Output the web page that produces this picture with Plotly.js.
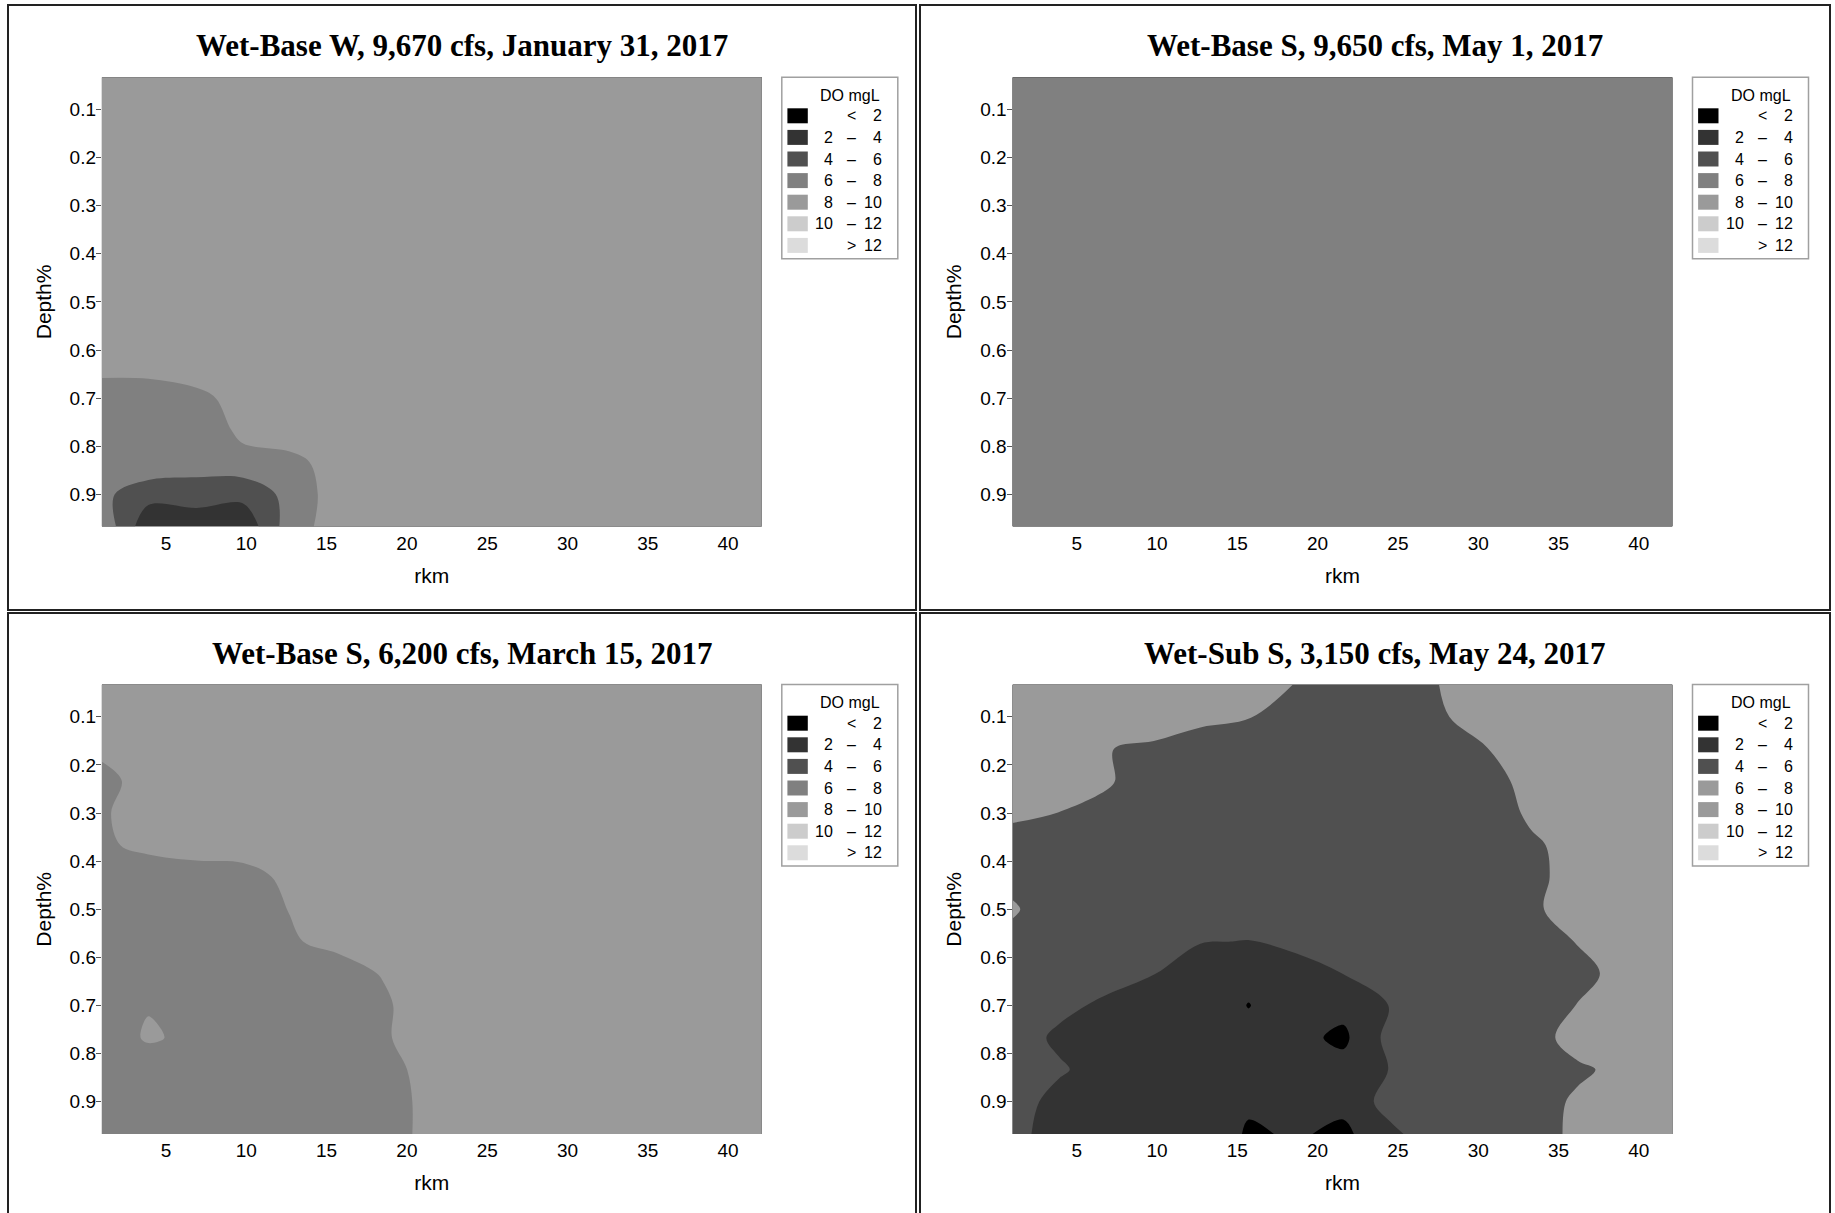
<!DOCTYPE html>
<html>
<head>
<meta charset="utf-8">
<script src="https://cdn.plot.ly/plotly-3.0.1.min.js"></script>
<style>
html,body{margin:0;padding:0;background:#fff;}
#chart{width:1835px;height:1213px;}
</style>
</head>
<body>
<div id="chart"></div>
<script>
// ---------------- data ----------------
const RKM = [1.0, 3.9, 6.9, 9.8, 12.7, 15.7, 18.6, 21.6, 24.5, 27.4, 30.4, 33.3, 36.2, 39.2, 42.1];
const DEPTH = [0.033, 0.1, 0.167, 0.233, 0.3, 0.367, 0.433, 0.5, 0.567, 0.633, 0.7, 0.767, 0.833, 0.9, 0.967];

const TITLES = [
  'Wet-Base W, 9,670 cfs, January 31, 2017',
  'Wet-Base S, 9,650 cfs, May 1, 2017',
  'Wet-Base S, 6,200 cfs, March 15, 2017',
  'Wet-Sub S, 3,150 cfs, May 24, 2017'
];

// DO (mg/L) by depth row (top to bottom) and rkm column
const DO_JAN31 = [
  [9.1, 9.2, 9.2, 9.3, 9.3, 9.3, 9.4, 9.4, 9.4, 9.4, 9.5, 9.5, 9.5, 9.5, 9.5],
  [9.1, 9.1, 9.2, 9.2, 9.3, 9.3, 9.3, 9.4, 9.4, 9.4, 9.4, 9.5, 9.5, 9.5, 9.5],
  [9.0, 9.1, 9.1, 9.2, 9.2, 9.3, 9.3, 9.3, 9.4, 9.4, 9.4, 9.4, 9.5, 9.5, 9.5],
  [9.0, 9.0, 9.1, 9.2, 9.2, 9.2, 9.3, 9.3, 9.3, 9.4, 9.4, 9.4, 9.4, 9.5, 9.5],
  [8.9, 9.0, 9.1, 9.1, 9.2, 9.2, 9.2, 9.3, 9.3, 9.3, 9.4, 9.4, 9.4, 9.4, 9.5],
  [8.9, 8.9, 9.0, 9.1, 9.1, 9.2, 9.2, 9.2, 9.3, 9.3, 9.3, 9.4, 9.4, 9.4, 9.4],
  [8.8, 8.9, 9.0, 9.0, 9.1, 9.1, 9.2, 9.2, 9.2, 9.3, 9.3, 9.3, 9.4, 9.4, 9.4],
  [8.7, 8.8, 9.0, 9.0, 9.1, 9.1, 9.1, 9.2, 9.2, 9.2, 9.3, 9.3, 9.3, 9.4, 9.4],
  [8.6, 8.7, 9.1, 9.0, 9.0, 9.1, 9.1, 9.1, 9.2, 9.2, 9.2, 9.3, 9.3, 9.3, 9.4],
  [8.3, 8.4, 9.5, 9.1, 9.0, 9.0, 9.1, 9.1, 9.1, 9.2, 9.2, 9.2, 9.3, 9.3, 9.3],
  [7.5, 7.4, 7.3, 9.0, 9.2, 9.0, 9.0, 9.1, 9.1, 9.1, 9.2, 9.2, 9.2, 9.3, 9.3],
  [7.3, 7.5, 6.5, 8.5, 9.4, 9.1, 9.0, 9.0, 9.1, 9.1, 9.1, 9.2, 9.2, 9.2, 9.3],
  [7.0, 7.6, 6.8, 7.3, 7.3, 9.0, 9.0, 9.0, 9.0, 9.1, 9.1, 9.1, 9.2, 9.2, 9.2],
  [6.5, 4.7, 5.1, 4.6, 6.6, 9.0, 9.0, 9.0, 9.0, 9.0, 9.1, 9.1, 9.1, 9.2, 9.2],
  [7.5, 2.6, 2.5, 2.5, 7.0, 9.0, 9.0, 9.0, 9.0, 9.0, 9.0, 9.1, 9.1, 9.1, 9.2]
];

const DO_MAY1 = [
  [7.2, 7.2, 7.3, 7.3, 7.3, 7.4, 7.4, 7.4, 7.4, 7.5, 7.5, 7.5, 7.5, 7.5, 7.6],
  [7.2, 7.2, 7.2, 7.3, 7.3, 7.3, 7.4, 7.4, 7.4, 7.4, 7.5, 7.5, 7.5, 7.5, 7.5],
  [7.1, 7.2, 7.2, 7.2, 7.3, 7.3, 7.3, 7.4, 7.4, 7.4, 7.4, 7.5, 7.5, 7.5, 7.5],
  [7.1, 7.1, 7.2, 7.2, 7.2, 7.3, 7.3, 7.3, 7.4, 7.4, 7.4, 7.4, 7.5, 7.5, 7.5],
  [7.1, 7.1, 7.1, 7.2, 7.2, 7.2, 7.3, 7.3, 7.3, 7.4, 7.4, 7.4, 7.4, 7.5, 7.5],
  [7.0, 7.1, 7.1, 7.1, 7.2, 7.2, 7.2, 7.3, 7.3, 7.3, 7.4, 7.4, 7.4, 7.4, 7.5],
  [7.0, 7.0, 7.1, 7.1, 7.1, 7.2, 7.2, 7.2, 7.3, 7.3, 7.3, 7.4, 7.4, 7.4, 7.4],
  [7.0, 7.0, 7.0, 7.1, 7.1, 7.1, 7.2, 7.2, 7.2, 7.3, 7.3, 7.3, 7.4, 7.4, 7.4],
  [6.9, 7.0, 7.0, 7.0, 7.1, 7.1, 7.1, 7.2, 7.2, 7.2, 7.3, 7.3, 7.3, 7.3, 7.4],
  [6.9, 6.9, 7.0, 7.0, 7.0, 7.1, 7.1, 7.1, 7.2, 7.2, 7.2, 7.3, 7.3, 7.3, 7.3],
  [6.9, 6.9, 6.9, 7.0, 7.0, 7.0, 7.1, 7.1, 7.1, 7.2, 7.2, 7.2, 7.2, 7.3, 7.3],
  [6.8, 6.9, 6.9, 6.9, 7.0, 7.0, 7.0, 7.1, 7.1, 7.1, 7.2, 7.2, 7.2, 7.2, 7.3],
  [6.8, 6.8, 6.9, 6.9, 6.9, 7.0, 7.0, 7.0, 7.1, 7.1, 7.1, 7.1, 7.2, 7.2, 7.2],
  [6.8, 6.8, 6.8, 6.9, 6.9, 6.9, 7.0, 7.0, 7.0, 7.1, 7.1, 7.1, 7.1, 7.2, 7.2],
  [6.7, 6.8, 6.8, 6.8, 6.9, 6.9, 6.9, 7.0, 7.0, 7.0, 7.1, 7.1, 7.1, 7.1, 7.2]
];

const DO_MAR15 = [
  [9.0, 9.1, 9.2, 9.2, 9.3, 9.3, 9.3, 9.4, 9.4, 9.4, 9.5, 9.5, 9.5, 9.5, 9.5],
  [8.8, 9.0, 9.1, 9.2, 9.2, 9.3, 9.3, 9.3, 9.4, 9.4, 9.4, 9.5, 9.5, 9.5, 9.5],
  [8.2, 8.9, 9.0, 9.1, 9.2, 9.2, 9.3, 9.3, 9.3, 9.4, 9.4, 9.4, 9.5, 9.5, 9.5],
  [7.7, 8.4, 8.9, 9.0, 9.1, 9.2, 9.2, 9.3, 9.3, 9.3, 9.4, 9.4, 9.4, 9.5, 9.5],
  [7.8, 8.8, 8.8, 9.0, 9.1, 9.1, 9.2, 9.2, 9.3, 9.3, 9.3, 9.4, 9.4, 9.4, 9.5],
  [7.8, 8.3, 8.6, 8.8, 9.0, 9.1, 9.1, 9.2, 9.2, 9.3, 9.3, 9.3, 9.4, 9.4, 9.4],
  [7.6, 7.25, 7.35, 7.36, 8.4, 9.0, 9.1, 9.1, 9.2, 9.2, 9.3, 9.3, 9.3, 9.4, 9.4],
  [7.5, 7.3, 7.2, 7.2, 8.05, 9.0, 9.1, 9.1, 9.1, 9.2, 9.2, 9.3, 9.3, 9.3, 9.4],
  [7.4, 7.4, 7.1, 7.0, 7.77, 8.6, 9.0, 9.1, 9.1, 9.2, 9.2, 9.2, 9.3, 9.3, 9.3],
  [7.3, 7.5, 7.0, 6.9, 7.1, 7.0, 8.2, 9.2, 9.1, 9.1, 9.2, 9.2, 9.2, 9.3, 9.3],
  [7.2, 7.9, 7.2, 6.8, 7.0, 7.3, 7.6, 9.8, 9.2, 9.1, 9.1, 9.2, 9.2, 9.2, 9.3],
  [7.0, 8.2, 7.6, 6.9, 7.0, 7.2, 7.7, 9.6, 9.2, 9.1, 9.1, 9.1, 9.2, 9.2, 9.2],
  [7.1, 7.0, 7.2, 7.0, 6.9, 7.1, 7.2, 8.9, 9.1, 9.1, 9.1, 9.1, 9.1, 9.2, 9.2],
  [7.2, 7.2, 7.1, 7.0, 6.8, 7.0, 6.9, 8.8, 9.0, 9.0, 9.1, 9.1, 9.1, 9.1, 9.2],
  [7.3, 7.3, 7.0, 7.0, 6.8, 7.0, 6.9, 8.8, 9.0, 9.0, 9.0, 9.1, 9.1, 9.1, 9.1]
];

const DO_MAY24 = [
  [7.2, 7.0, 6.9, 6.9, 6.8, 6.6, 5.97, 5.6, 5.7, 5.95, 6.9, 7.2, 7.3, 7.4, 7.5],
  [7.1, 6.9, 6.7, 6.9, 6.49, 6.07, 5.4, 5.2, 5.3, 5.6, 7.1, 7.3, 7.4, 7.5, 7.5],
  [7.0, 6.8, 6.05, 5.7, 5.0, 4.9, 4.8, 4.8, 4.9, 5.2, 5.88, 7.0, 7.3, 7.4, 7.5],
  [6.9, 6.5, 6.3, 4.5, 4.6, 4.5, 4.6, 4.7, 4.8, 5.0, 5.4, 6.49, 7.0, 7.3, 7.4],
  [6.4, 5.98, 5.2, 4.7, 4.6, 4.5, 4.5, 4.6, 4.7, 4.9, 5.3, 6.2, 6.8, 7.2, 7.3],
  [5.1, 5.2, 4.9, 4.8, 4.7, 4.6, 4.6, 4.6, 4.7, 4.9, 5.3, 5.82, 6.4, 7.0, 7.2],
  [5.5, 5.0, 4.8, 4.7, 4.6, 4.5, 4.5, 4.5, 4.6, 4.8, 5.1, 5.5, 6.76, 7.1, 7.3],
  [6.2, 5.0, 4.7, 4.6, 4.5, 4.6, 4.6, 4.5, 4.6, 4.7, 5.0, 5.5, 7.31, 7.2, 7.3],
  [5.5, 5.0, 4.8, 4.8, 4.1, 3.95, 4.9, 4.6, 4.6, 4.7, 4.9, 5.15, 6.1, 7.0, 7.2],
  [5.3, 4.9, 4.6, 4.05, 2.6, 2.5, 2.41, 4.05, 4.5, 4.7, 4.9, 5.0, 5.15, 7.0, 7.2],
  [5.0, 4.4, 3.69, 3.3, 3.0, 1.95, 2.9, 2.6, 4.05, 4.6, 4.9, 5.2, 6.06, 7.0, 7.2],
  [4.8, 3.7, 3.2, 3.0, 2.9, 2.5, 2.57, 1.6, 4.6, 4.9, 5.1, 5.3, 6.65, 7.1, 7.2],
  [4.7, 4.2, 3.3, 3.0, 2.9, 2.8, 2.8, 2.71, 4.05, 4.8, 5.0, 5.3, 5.75, 6.43, 7.0],
  [4.7, 3.48, 3.0, 2.9, 2.8, 2.37, 2.8, 2.54, 4.77, 4.9, 5.0, 5.33, 6.23, 7.0, 7.2],
  [4.5, 3.27, 3.0, 2.9, 3.87, 1.7, 2.25, 1.56, 3.5, 5.2, 5.1, 5.18, 6.4, 7.0, 7.2]
];

const LEVEL_START = 2, LEVEL_END = 12, LEVEL_SIZE = 2;
const LEGEND_TITLE = 'DO mgL';
const LEGEND_LOW = ['', '2', '4', '6', '8', '10', ''];
const LEGEND_SYM = ['<', '–', '–', '–', '–', '–', '>'];
const LEGEND_HIGH = ['2', '4', '6', '8', '10', '12', '12'];
const COLORS_STD = ['#000000', '#333333', '#505050', '#808080', '#9a9a9a', '#cccccc', '#dcdcdc'];
const COLORS_MAY24 = ['#000000', '#333333', '#505050', '#9a9a9a', '#9a9a9a', '#cccccc', '#dcdcdc'];
const X_TICKS = [5, 10, 15, 20, 25, 30, 35, 40];
const Y_TICKS = [0.1, 0.2, 0.3, 0.4, 0.5, 0.6, 0.7, 0.8, 0.9];
const X_TITLE = 'rkm';
const Y_TITLE = 'Depth%';

// ---------------- layout geometry ----------------
const W = 1835, H = 1213;
const px = v => v / W;
const py = v => 1 - v / H;

const PANELS = [
  {z: DO_JAN31, colors: COLORS_STD, title: TITLES[0]},
  {z: DO_MAY1, colors: COLORS_STD, title: TITLES[1]},
  {z: DO_MAR15, colors: COLORS_STD, title: TITLES[2]},
  {z: DO_MAY24, colors: COLORS_MAY24, title: TITLES[3]}
];
const PLOT_LEFT = [101.8, 1012.5];
const PLOT_TOP = [77.2, 684.6];
const PLOT_W = 660, PLOT_H = 449.4;
const FRAME_LEFT = [8, 920], FRAME_RIGHT = [916, 1830];
const FRAME_TOP = [5, 613], FRAME_BOTTOM = [610, 1230];

const SANS = 'Liberation Sans, Arial, sans-serif';
const SERIF = 'Liberation Serif, Times New Roman, serif';

const data = [];
const layout = {
  width: W, height: H,
  margin: {l: 0, r: 0, t: 0, b: 0, pad: 0},
  paper_bgcolor: '#ffffff', plot_bgcolor: '#ffffff',
  showlegend: false,
  shapes: [], annotations: []
};

PANELS.forEach((p, i) => {
  const col = i % 2, row = Math.floor(i / 2);
  const sfx = i === 0 ? '' : String(i + 1);
  const L = PLOT_LEFT[col], T = PLOT_TOP[row];
  const n = p.colors.length - 1;

  data.push({
    type: 'contour',
    x: RKM, y: DEPTH, z: p.z,
    xaxis: 'x' + sfx, yaxis: 'y' + sfx,
    autocontour: false,
    contours: {start: LEVEL_START, end: LEVEL_END, size: LEVEL_SIZE, coloring: 'fill', showlines: false},
    colorscale: p.colors.map((c, k) => [k / n, c]),
    showscale: false,
    line: {width: 0, smoothing: 1},
    hoverinfo: 'skip'
  });

  layout['xaxis' + sfx] = {
    domain: [px(L), px(L + PLOT_W)], anchor: 'y' + sfx,
    range: [RKM[0], RKM[RKM.length - 1]], autorange: false,
    tickmode: 'array', tickvals: X_TICKS, ticks: '',
    ticklabelstandoff: 3,
    showgrid: false, zeroline: false, showline: false,
    tickfont: {family: SANS, size: 19, color: '#000'},
    title: {text: X_TITLE, font: {family: SANS, size: 21, color: '#000'}, standoff: 15}
  };
  layout['yaxis' + sfx] = {
    domain: [py(T + PLOT_H), py(T)], anchor: 'x' + sfx,
    range: [DEPTH[DEPTH.length - 1], DEPTH[0]], autorange: false,
    tickmode: 'array', tickvals: Y_TICKS, tickformat: '.1f',
    ticks: 'outside', ticklen: 5, tickwidth: 1, tickcolor: '#555',
    ticklabelstandoff: -4,
    showgrid: false, zeroline: false, showline: false,
    tickfont: {family: SANS, size: 19, color: '#000'},
    title: {text: Y_TITLE, font: {family: SANS, size: 21, color: '#000'}, standoff: 12}
  };

  // panel frame
  layout.shapes.push({
    type: 'rect', xref: 'paper', yref: 'paper',
    x0: px(FRAME_LEFT[col]), x1: px(FRAME_RIGHT[col]),
    y0: py(FRAME_BOTTOM[row]), y1: py(FRAME_TOP[row]),
    line: {color: '#222', width: 2}, fillcolor: 'rgba(0,0,0,0)'
  });

  // panel title
  layout.annotations.push({
    xref: 'paper', yref: 'paper',
    x: px((FRAME_LEFT[col] + FRAME_RIGHT[col]) / 2), y: py(FRAME_TOP[row] + 40.5),
    xanchor: 'center', yanchor: 'middle', showarrow: false,
    text: '<b>' + p.title + '</b>',
    font: {family: SERIF, size: 31, color: '#000'}
  });

  // legend
  const LL = L + PLOT_W + 20;
  layout.shapes.push({
    type: 'rect', xref: 'paper', yref: 'paper',
    x0: px(LL), x1: px(LL + 116), y0: py(T + 181.5), y1: py(T),
    line: {color: '#a0a0a0', width: 1.5}, fillcolor: '#ffffff'
  });
  layout.annotations.push({
    xref: 'paper', yref: 'paper', x: px(LL + 100), y: py(T + 18),
    xanchor: 'right', yanchor: 'middle', showarrow: false,
    text: LEGEND_TITLE, font: {family: SANS, size: 16, color: '#000'}
  });
  p.colors.forEach((c, k) => {
    const cy = T + 38.6 + 21.6 * k;
    layout.shapes.push({
      type: 'rect', xref: 'paper', yref: 'paper',
      x0: px(LL + 5.6), x1: px(LL + 26), y0: py(cy + 7.5), y1: py(cy - 7.5),
      line: {width: 0}, fillcolor: c
    });
    const f = {family: SANS, size: 16, color: '#000'};
    if (LEGEND_LOW[k]) layout.annotations.push({
      xref: 'paper', yref: 'paper', x: px(LL + 53), y: py(cy),
      xanchor: 'right', yanchor: 'middle', showarrow: false, text: LEGEND_LOW[k], font: f
    });
    layout.annotations.push({
      xref: 'paper', yref: 'paper', x: px(LL + 70), y: py(cy),
      xanchor: 'center', yanchor: 'middle', showarrow: false, text: LEGEND_SYM[k], font: f
    });
    layout.annotations.push({
      xref: 'paper', yref: 'paper', x: px(LL + 102.5), y: py(cy),
      xanchor: 'right', yanchor: 'middle', showarrow: false, text: LEGEND_HIGH[k], font: f
    });
  });
});

Plotly.newPlot('chart', data, layout, {staticPlot: true, displayModeBar: false});
</script>
</body>
</html>
